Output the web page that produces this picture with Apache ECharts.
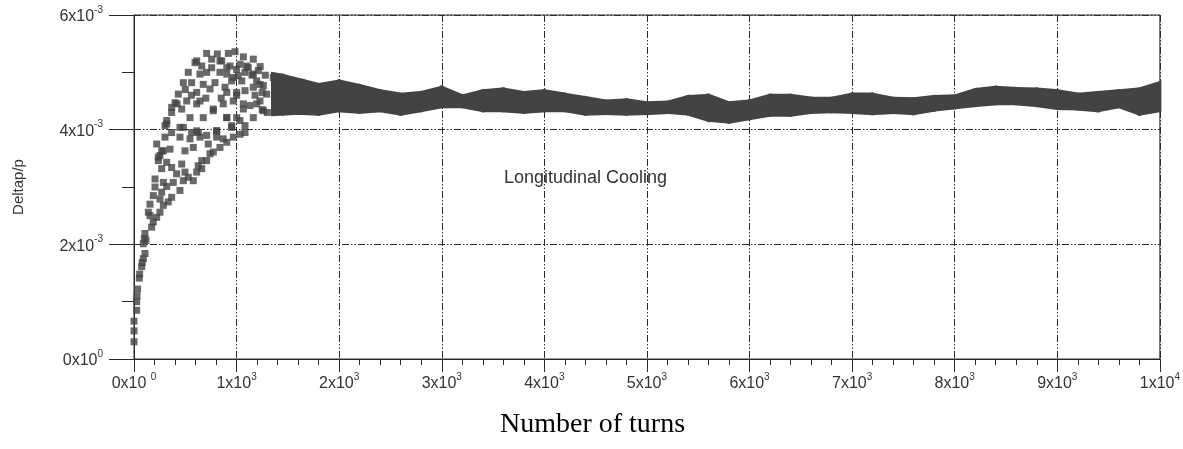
<!DOCTYPE html>
<html><head><meta charset="utf-8">
<script src="https://cdn.jsdelivr.net/npm/echarts@6/dist/echarts.min.js"></script>
<style>html,body{margin:0;padding:0;background:#fff}#c{width:1183px;height:449px}</style>
</head><body><div id="c"></div>
<script>
// Tick labels
const xTicks = [0,1000,2000,3000,4000,5000,6000,7000,8000,9000,10000];
const xTickLabels = ['{b|0x10 }{s|0}','{b|1x10}{s|3}','{b|2x10}{s|3}','{b|3x10}{s|3}','{b|4x10}{s|3}','{b|5x10}{s|3}','{b|6x10}{s|3}','{b|7x10}{s|3}','{b|8x10}{s|3}','{b|9x10}{s|3}','{b|1x10}{s|4}'];
const yTicks = [0,2,4,6];
const yTickLabels = ['{b|0x10}{s|0}','{b|2x10}{s|-3}','{b|4x10}{s|-3}','{b|6x10}{s|-3}'];

// Early (scattered) samples: turns, Deltap/p in units of 1e-3
const scatterTurns = [0,0,0,26,26,30,35,52,55,75,80,91,107,91,117,107,100,172,188,156,140,221,253,156,286,334,253,188,367,270,319,448,205,205,286,383,481,578,529,611,660,497,416,367,465,270,319,253,286,351,497,578,660,708,626,773,741,838,904,968,1033,1082,546,643,708,806,870,448,367,562,627,724,221,237,
708,812,920,985,757,855,1066,1163,595,660,757,936,1033,1114,1212,529,643,708,838,904,1016,1082,481,562,675,789,887,952,1050,1196,1261,432,611,741,904,1082,1163,400,514,611,773,870,968,1066,1131,1228,367,465,546,675,904,1001,1163,319,302,448,611,806,952,1082,
1000,1150,1250,1250,1000,850,700,560,500,420,1230,1280,1300,1180,
611,367,319,302,270,237,838,904,1098,1163,643,773,904,481,806,952,1033,1066,1001,968,1228,1293,1196,1261,1358,1423,1488];
const scatterDelta = [0.30,0.49,0.66,0.85,1.00,1.10,1.22,1.41,1.48,1.61,1.68,1.75,1.84,2.01,2.07,2.19,2.10,2.30,2.39,2.50,2.56,2.47,2.56,2.70,2.68,2.74,2.79,2.85,2.82,2.91,3.01,2.94,3.00,3.14,3.08,3.08,3.11,3.11,3.17,3.26,3.32,3.26,3.23,3.34,3.40,3.32,3.43,3.55,3.63,3.66,3.63,3.69,3.46,3.46,3.37,3.61,3.58,3.69,3.78,3.87,3.92,3.95,3.84,3.87,3.90,3.87,3.84,3.87,3.95,3.95,3.95,3.75,3.75,3.46,
5.33,5.32,5.33,5.36,5.23,5.20,5.27,5.23,5.17,5.11,5.08,5.11,5.14,5.08,5.03,5.00,4.97,5.00,5.00,4.97,4.94,5.00,4.82,4.82,4.79,4.82,4.74,4.85,4.85,4.85,4.77,4.62,4.65,4.71,4.65,4.68,4.74,4.47,4.50,4.45,4.36,4.45,4.50,4.36,4.42,4.50,4.30,4.36,4.21,4.21,4.21,4.21,4.21,4.16,4.07,4.04,3.98,3.98,4.04,4.07,
5.05,4.95,4.65,4.35,4.60,4.55,4.55,4.60,4.70,4.45,5.10,4.95,4.30,4.60,
5.20,4.39,4.10,3.87,3.63,3.52,5.20,5.08,5.11,4.97,4.50,4.33,4.21,4.04,3.98,4.07,4.16,4.45,4.65,4.91,4.79,4.62,4.45,4.33,4.91,4.50,4.39];

// Dense band (settled regime): upper and lower edges, units of 1e-3
const bandTurns  = [1350,1450,1550,1650,1800,2000,2200,2400,2600,2800,3000,3200,3400,3600,3800,4000,4200,4400,4600,4800,5000,5200,5400,5600,5800,6000,6200,6400,6600,6800,7000,7200,7400,7600,7800,8000,8200,8400,8600,8800,9000,9200,9400,9600,9800,10000];
const bandTop    = [4.98,4.95,4.90,4.86,4.79,4.85,4.77,4.68,4.62,4.65,4.74,4.59,4.68,4.71,4.65,4.68,4.62,4.56,4.50,4.52,4.47,4.48,4.58,4.60,4.47,4.50,4.60,4.60,4.55,4.55,4.62,4.62,4.55,4.54,4.58,4.59,4.70,4.74,4.72,4.71,4.68,4.62,4.65,4.68,4.71,4.82];
const bandBottom = [4.26,4.27,4.28,4.28,4.27,4.33,4.30,4.33,4.27,4.33,4.40,4.40,4.33,4.33,4.30,4.33,4.33,4.27,4.28,4.27,4.28,4.30,4.27,4.16,4.13,4.19,4.25,4.25,4.30,4.31,4.30,4.28,4.30,4.28,4.34,4.38,4.42,4.45,4.45,4.42,4.37,4.36,4.33,4.40,4.27,4.33];

const INK = '#434343';
const AX = '#2a2a2a';
const FONT = 'Liberation Sans, Arial, sans-serif';
const dash = [7,2,1.5,2,1.5,2];
const rich = {
  b: {fontSize: 16, fontFamily: FONT, color: '#333', lineHeight: 20, verticalAlign: 'bottom'},
  s: {fontSize: 10, fontFamily: FONT, color: '#333', lineHeight: 20, verticalAlign: 'top'}
};

const chart = echarts.init(document.getElementById('c'), null, {renderer: 'canvas'});
chart.setOption({
  animation: false,
  backgroundColor: '#fff',
  grid: {left: 134, right: 23, top: 15, bottom: 90, show: true, borderColor: AX, borderWidth: 1, backgroundColor: 'transparent'},
  xAxis: {
    type: 'value', min: 0, max: 10000, interval: 1000,
    axisLine: {show: true, onZero: false, lineStyle: {color: AX}},
    axisTick: {show: true, length: 13, lineStyle: {color: AX}},
    minorTick: {show: true, splitNumber: 5, length: 6, lineStyle: {color: AX}},
    splitLine: {show: true, lineStyle: {color: AX, type: dash, width: 1}},
    axisLabel: {margin: 13, showMinLabel: true, showMaxLabel: true,
      formatter: v => xTickLabels[xTicks.indexOf(v)], rich: rich}
  },
  yAxis: {
    type: 'value', min: 0, max: 6, interval: 2,
    name: 'Deltap/p', nameLocation: 'middle', nameGap: 108,
    nameTextStyle: {fontFamily: FONT, fontSize: 15, color: '#333'},
    axisLine: {show: true, onZero: false, lineStyle: {color: AX}},
    axisTick: {show: true, length: 25, lineStyle: {color: AX}},
    minorTick: {show: true, splitNumber: 2, length: 12, lineStyle: {color: AX}},
    splitLine: {show: true, lineStyle: {color: AX, type: dash, width: 1}},
    axisLabel: {margin: 31, showMinLabel: true, showMaxLabel: true,
      formatter: v => yTickLabels[yTicks.indexOf(Math.round(v))], rich: rich}
  },
  series: [
    {
      type: 'custom', silent: true,
      data: bandTurns.map((t, i) => [t, bandBottom[i], bandTop[i]]),
      encode: {x: 0, y: [1, 2]},
      renderItem: function (params, api) {
        const i = params.dataIndex;
        if (i >= bandTurns.length - 1) return null;
        const p1 = api.coord([bandTurns[i], bandTop[i]]);
        const p2 = api.coord([bandTurns[i + 1], bandTop[i + 1]]);
        const p3 = api.coord([bandTurns[i + 1], bandBottom[i + 1]]);
        const p4 = api.coord([bandTurns[i], bandBottom[i]]);
        return {
          type: 'polygon',
          shape: {points: [p1, p2, p3, p4]},
          style: {fill: INK, stroke: INK, lineWidth: 3, lineJoin: 'miter'}
        };
      }
    },
    {
      type: 'scatter', symbol: 'rect', symbolSize: 7, silent: true,
      data: scatterTurns.map((t, i) => [t, scatterDelta[i]]),
      itemStyle: {color: INK}
    }
  ],
  graphic: [
    {type: 'text', left: 504, top: 169, style: {text: 'Longitudinal Cooling', fontFamily: FONT, fontSize: 18, fill: '#333'}},
    {type: 'text', left: 500, top: 411, style: {text: 'Number of turns', fontFamily: 'Liberation Serif, Times New Roman, serif', fontSize: 28, fill: '#000'}}
  ]
});
</script>
</body></html>
